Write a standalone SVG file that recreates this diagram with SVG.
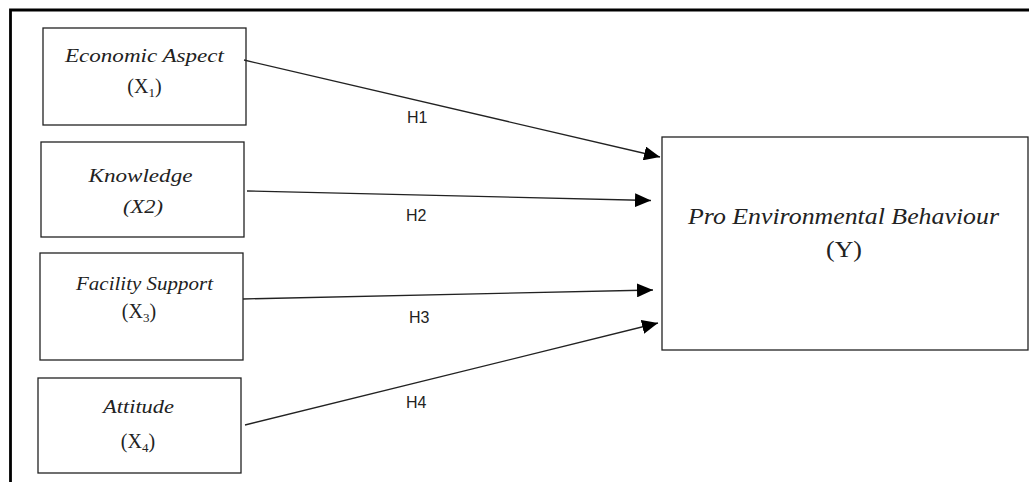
<svg xmlns="http://www.w3.org/2000/svg" width="1029" height="482" viewBox="0 0 1029 482">
<style>
.box{fill:#fff;stroke:#222;stroke-width:1.3}
.lbl{font-family:"Liberation Serif",serif;font-style:italic;fill:#222;text-anchor:middle}
.var{font-family:"Liberation Serif",serif;fill:#222;text-anchor:middle}
.h{font-family:"Liberation Sans",Arial,sans-serif;font-size:16px;fill:#222}
.con{stroke:#222;stroke-width:1.3;fill:none;marker-end:url(#ah)}
</style>
<defs>
<marker id="ah" viewBox="0 0 16 14" refX="16" refY="7" markerWidth="16" markerHeight="14" markerUnits="userSpaceOnUse" orient="auto">
<path d="M0,0 L16,7 L0,14 Z" fill="#000"/>
</marker>
</defs>
<rect width="1029" height="482" fill="#fff"/>
<path d="M10.5,482 V10 H1029" fill="none" stroke="#000" stroke-width="2.8"/>
<g id="x1">
<rect class="box" x="43" y="28" width="203" height="97"/>
<text class="lbl" x="144.5" y="62" font-size="19" textLength="159" lengthAdjust="spacingAndGlyphs">Economic Aspect</text>
<text class="var" x="144.5" y="93" font-size="20">(X<tspan font-size="13" dy="4">1</tspan><tspan dy="-4">)</tspan></text>
</g>
<g id="x2">
<rect class="box" x="41" y="142" width="203" height="95"/>
<text class="lbl" x="140.5" y="182" font-size="19" textLength="104" lengthAdjust="spacingAndGlyphs">Knowledge</text>
<text class="lbl" x="143" y="213" font-size="19" textLength="40" lengthAdjust="spacingAndGlyphs">(X2)</text>
</g>
<g id="x3">
<rect class="box" x="40" y="253" width="203" height="107"/>
<text class="lbl" x="144.5" y="290" font-size="19" textLength="137" lengthAdjust="spacingAndGlyphs">Facility Support</text>
<text class="var" x="139" y="318" font-size="20">(X<tspan font-size="13" dy="4">3</tspan><tspan dy="-4">)</tspan></text>
</g>
<g id="x4">
<rect class="box" x="38" y="378" width="203" height="95"/>
<text class="lbl" x="138.5" y="413" font-size="19" textLength="71" lengthAdjust="spacingAndGlyphs">Attitude</text>
<text class="var" x="138" y="448" font-size="20">(X<tspan font-size="13" dy="4">4</tspan><tspan dy="-4">)</tspan></text>
</g>
<g id="y">
<rect class="box" x="662" y="137" width="366" height="213"/>
<text class="lbl" x="843.5" y="224" font-size="23" textLength="311" lengthAdjust="spacingAndGlyphs">Pro Environmental Behaviour</text>
<text class="var" x="844" y="257" font-size="23" textLength="36" lengthAdjust="spacingAndGlyphs">(Y)</text>
</g>
<g id="connectors">
<line class="con" x1="244" y1="60" x2="660" y2="157"/>
<line class="con" x1="247" y1="191" x2="651" y2="200.5"/>
<line class="con" x1="243" y1="299" x2="653" y2="290"/>
<line class="con" x1="245" y1="425" x2="658" y2="323"/>
<text class="h" x="407" y="123">H1</text>
<text class="h" x="406" y="221">H2</text>
<text class="h" x="409" y="323">H3</text>
<text class="h" x="406" y="408">H4</text>
</g>
</svg>
